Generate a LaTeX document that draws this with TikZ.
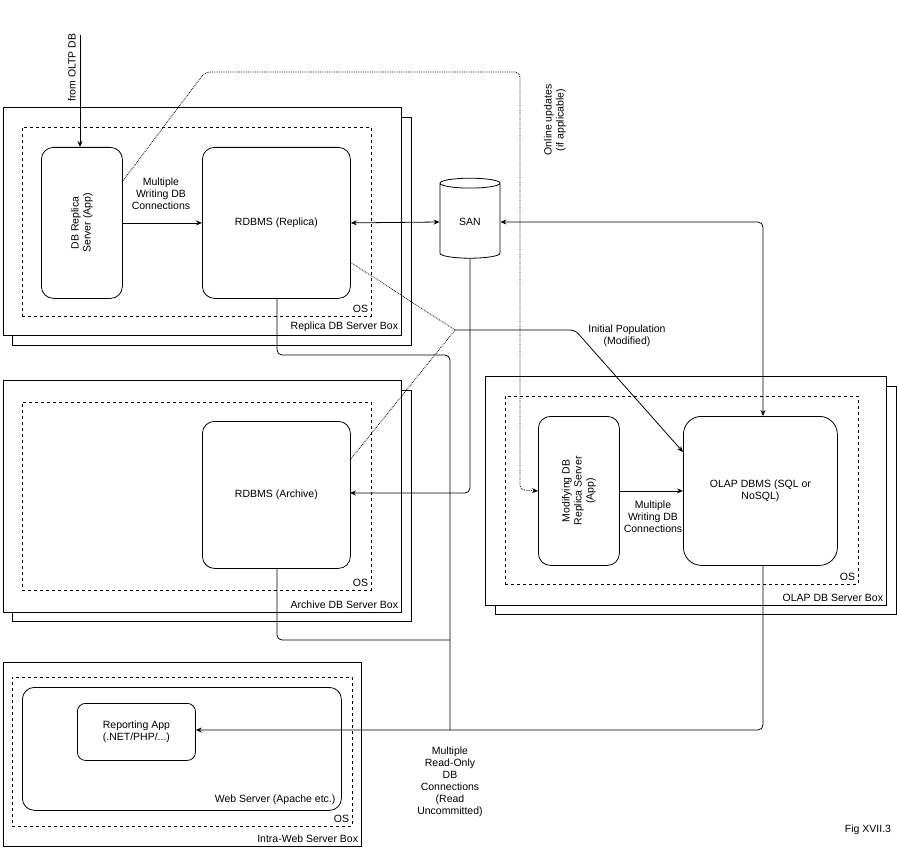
\documentclass[tikz,border=0pt]{standalone}
\usepackage{fontspec}
\setmainfont{Liberation Sans}
\usetikzlibrary{arrows.meta,shapes.geometric}
\tikzset{
  box/.style={draw,fill=white,anchor=north west,inner sep=0pt},
  os/.style={draw,dashed,anchor=north west,inner sep=0pt},
  app/.style={draw,rounded corners=12pt,align=center,anchor=north west,inner sep=0pt},
  lbl/.style={align=center,inner sep=1pt},
  arr/.style={-{Stealth[length=6pt,width=5pt]}},
  dot/.style={densely dotted}
}
\begin{document}
\begin{tikzpicture}[x=1pt,y=-1pt,line width=0.8pt,font=\fontsize{10.5}{12}\selectfont]
\useasboundingbox (0,0) rectangle (897,848);
% replica box
\node[box,minimum width=399,minimum height=228] (rsh) at (12,117) {};
\node[box,minimum width=398,minimum height=228] (rbox) at (3,107) {};
\node[os,minimum width=349,minimum height=189] (ros) at (22,127) {};
\node[anchor=south east] at (ros.south east) {OS}; \node[anchor=south east] at (rbox.south east) {Replica DB Server Box};
\node[app,minimum width=81,minimum height=151] (rapp) at (41,147) {};
\node[rotate=90,align=center] at (rapp.center) {DB Replica\\Server (App)};
\node[app,minimum width=148,minimum height=151] (rdb) at (202,147) {};
\node at (rdb.center) {RDBMS (Replica)};
% archive box
\node[box,minimum width=399,minimum height=231] (ash) at (12,390) {};
\node[box,minimum width=398,minimum height=232] (abox) at (3,380) {};
\node[os,minimum width=349,minimum height=188] (aos) at (22,402) {};
\node[anchor=south east] at (aos.south east) {OS}; \node[anchor=south east] at (abox.south east) {Archive DB Server Box};
\node[app,minimum width=148,minimum height=147] (adb) at (202,421) {};
\node at (adb.center) {RDBMS (Archive)};
% olap box
\node[box,minimum width=401,minimum height=228] (osh) at (495,386) {};
\node[box,minimum width=401,minimum height=229] (obox) at (485,376) {};
\node[os,minimum width=353,minimum height=188] (oos) at (505,396) {};
\node[anchor=south east] at (oos.south east) {OS}; \node[anchor=south east] at (obox.south east) {OLAP DB Server Box};
\node[app,minimum width=81,minimum height=149] (mapp) at (538,416) {};
\node[rotate=90,align=center] at (mapp.center) {Modifying DB\\Replica Server\\(App)};
\node[app,minimum width=154,minimum height=149,rounded corners=18pt] (odb) at (683,416) {};
\node[align=center] at (odb.center) {OLAP DBMS (SQL or\\NoSQL)};
% web box
\node[box,minimum width=358,minimum height=184] (wbox) at (3,662) {};
\node[os,minimum width=340,minimum height=149] (wos) at (12,677) {};
\node[anchor=south east] at (wos.south east) {OS}; \node[anchor=south east] at (wbox.south east) {Intra-Web Server Box};
\node[app,minimum width=319,minimum height=123] (web) at (22,687) {};
\node[anchor=south east,inner sep=6pt] at (web.south east) {Web Server (Apache etc.)};
\node[app,rounded corners=8pt,minimum width=118,minimum height=57] (rep) at (77,703) {};
\node[align=center] at (rep.center) {Reporting App\\(.NET/PHP/...)};
% san
\node[cylinder,shape border rotate=90,draw,fill=white,aspect=0.35,minimum width=60,minimum height=80] (san) at (470,222) {SAN};
% connectors
\coordinate (oltp) at (80,35);
\node[rotate=90,anchor=east] at (72,30) {from OLTP DB};
\draw[arr] (oltp) -- (rapp.north -| oltp);
\draw[arr] (rapp.east) -- (rdb.west);
\node[lbl] at (161,194) {Multiple\\Writing DB\\Connections};
\draw[{Stealth[length=6pt,width=5pt]}-{Stealth[length=6pt,width=5pt]}] (rdb.east) -- (san.west);
\draw[{Stealth[length=6pt,width=5pt]}-{Stealth[length=6pt,width=5pt]},rounded corners=5pt] (san.east) -- (763,222) -- (763,416);
\draw[arr,rounded corners=5pt] (san.south) -- (470,493) -- (350,493);
\draw[arr] (mapp.east) -- (odb.west |- mapp.east);
\node[lbl] at (653,517) {Multiple\\Writing DB\\Connections};
\draw[dot,arr,rounded corners=5pt] (122,182) -- (205,72) -- (520,72) -- (520,490) -- (mapp.west);
\node[rotate=90,align=center] at (555,120) {Online updates\\(if applicable)};
\coordinate (ip) at (455,330);
\draw[dot] (350,262) -- (ip); \draw[dot] (350,460) -- (ip);
\draw[arr,rounded corners=5pt] (ip) -- (575,330) -- (683,452);
\node[lbl] at (627,336) {Initial Population\\(Modified)};
\draw[rounded corners=5pt] (277,298) -- (277,355) -- (450,355) -- (450,730);
\draw[rounded corners=5pt] (277,568) -- (277,640) -- (450,640);
\draw[arr,rounded corners=5pt] (763,565) -- (763,730) -- (rep.east |- 763,730);
\node[lbl] at (450,782) {Multiple\\Read-Only\\DB\\Connections\\(Read\\Uncommitted)};
\node at (868,830) {Fig XVII.3};
\end{tikzpicture}
\end{document}
